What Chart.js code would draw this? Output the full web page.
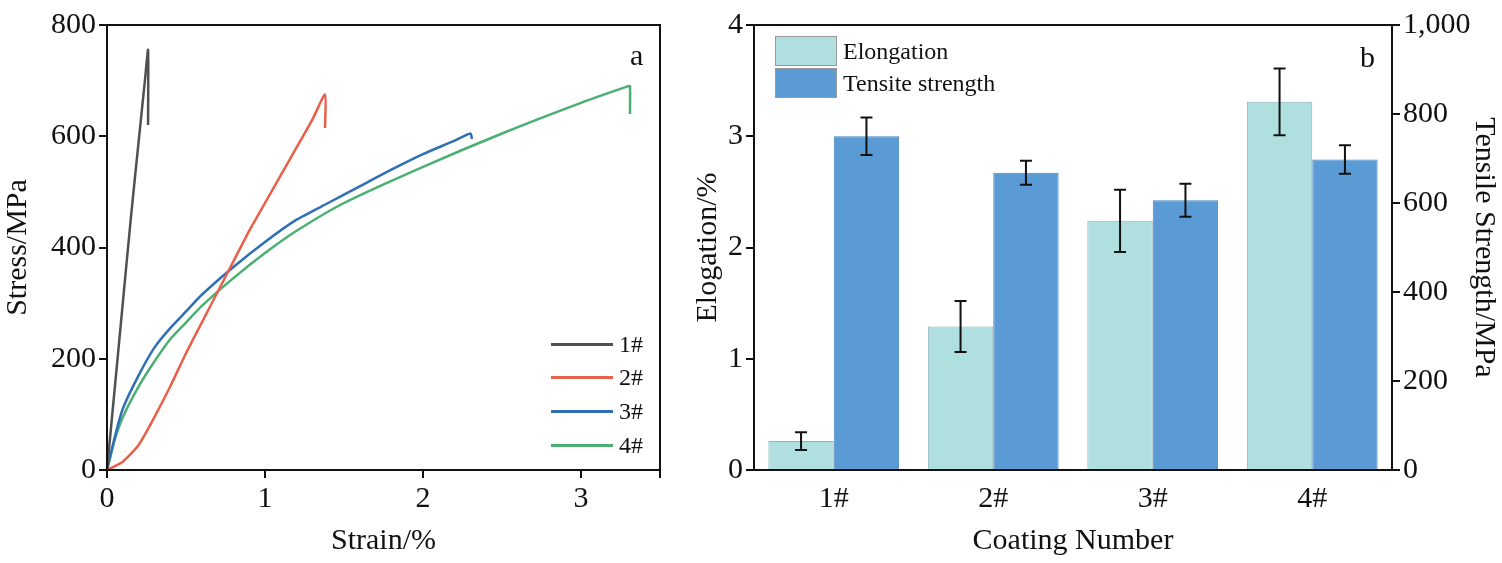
<!DOCTYPE html>
<html><head><meta charset="utf-8">
<script src="https://cdn.jsdelivr.net/npm/chart.js@4.4.1/dist/chart.umd.min.js"></script>
<style>
body{margin:0;background:#fff;width:1502px;height:563px;position:relative;overflow:hidden;font-family:"Liberation Serif",serif}
.c{position:absolute;top:0}
.lab{position:absolute;font-size:30px;color:#111}
.lg{position:absolute;font-size:24px;color:#111;display:flex;align-items:center}
.lg span{flex-shrink:0;display:inline-block}
</style></head><body>
<div class="c" style="left:0"><canvas id="a" width="690" height="563"></canvas></div>
<div class="c" style="left:690px"><canvas id="b" width="812" height="563"></canvas></div>
<div class="lab" style="left:630px;top:38px">a</div>
<div class="lab" style="left:1360px;top:40px">b</div>
<div class="lg" style="left:551px;top:331px"><span style="width:62px;height:3px;background:#505050;margin-right:6px"></span>1#</div>
<div class="lg" style="left:551px;top:364px"><span style="width:62px;height:3px;background:#e8604a;margin-right:6px"></span>2#</div>
<div class="lg" style="left:551px;top:398px"><span style="width:62px;height:3px;background:#2f6fb5;margin-right:6px"></span>3#</div>
<div class="lg" style="left:551px;top:432px"><span style="width:62px;height:3px;background:#4caf72;margin-right:6px"></span>4#</div>
<div class="lg" style="left:775px;top:36px"><span style="width:60px;height:28px;background:#b0dfe0;border:1px solid #999;margin-right:6px"></span>Elongation</div>
<div class="lg" style="left:775px;top:68px"><span style="width:60px;height:28px;background:#5b9bd5;border:1px solid #999;margin-right:6px"></span>Tensite strength</div>
<script>
// stress-strain curves (strain %, stress MPa)
const s1 = [[0,0],[0.05,150],[0.1,300],[0.15,450],[0.2,590],[0.24,700],[0.26,755],[0.26,620]];
const s2 = [[0,0],[0.1,15],[0.2,45],[0.3,95],[0.4,150],[0.5,210],[0.6,265],[0.7,320],[0.8,375],[0.9,430],[1.0,480],[1.1,530],[1.2,580],[1.3,630],[1.38,675],[1.38,615]];
const s3 = [[0,0],[0.05,60],[0.1,110],[0.2,170],[0.3,220],[0.4,255],[0.5,285],[0.6,315],[0.8,365],[1.0,410],[1.2,450],[1.4,480],[1.6,510],[1.8,540],[2.0,568],[2.2,592],[2.3,605],[2.31,595]];
const s4 = [[0,0],[0.05,55],[0.1,95],[0.2,150],[0.3,195],[0.4,235],[0.5,265],[0.6,295],[0.8,345],[1.0,390],[1.2,430],[1.5,480],[2.0,545],[2.5,605],[3.0,660],[3.3,690],[3.31,690],[3.31,640]];
const seriesNames = ['1#','2#','3#','4#'];
const seriesColors = ['#505050','#e8604a','#2f6fb5','#4caf72'];

// bar chart
const coatings = ['1#','2#','3#','4#'];
const elongation = [0.26,1.29,2.24,3.31];
const elongErr = [0.08,0.23,0.28,0.30];
const tensile = [750,668,606,698];
const tensileErr = [42,27,37,32];

const font = {family:'"Liberation Serif", serif', size:30};
const black = '#111';

const frame = {
  id:'frame',
  afterDraw(c){
    const a = c.chartArea, x = c.ctx;
    x.save(); x.strokeStyle = black; x.lineWidth = 2;
    x.strokeRect(a.left, a.top, a.right - a.left, a.bottom - a.top);
    x.restore();
  }
};

const errBars = {
  id:'errBars',
  afterDatasetsDraw(c){
    const x = c.ctx;
    x.save(); x.strokeStyle = black; x.lineWidth = 2;
    c.data.datasets.forEach((ds, i) => {
      const sc = c.scales[ds.yAxisID];
      c.getDatasetMeta(i).data.forEach((bar, j) => {
        const v = ds.data[j], e = ds.err[j];
        const t = sc.getPixelForValue(v + e), b = sc.getPixelForValue(v - e);
        x.beginPath();
        x.moveTo(bar.x, t); x.lineTo(bar.x, b);
        x.moveTo(bar.x - 6, t); x.lineTo(bar.x + 6, t);
        x.moveTo(bar.x - 6, b); x.lineTo(bar.x + 6, b);
        x.stroke();
      });
    });
    x.restore();
  }
};

const axisCommon = {
  border:{color:black, width:2},
  grid:{drawOnChartArea:false, color:black, tickLength:8, lineWidth:2},
  ticks:{font, color:black}
};

new Chart(document.getElementById('a'), {
  type:'line',
  data:{datasets:[s1,s2,s3,s4].map((s, i) => ({
    label:seriesNames[i],
    data:s.map(p => ({x:p[0], y:p[1]})),
    borderColor:seriesColors[i], borderWidth:2.5, pointRadius:0, tension:0.2
  }))},
  options:{
    animation:false, responsive:false, maintainAspectRatio:false,
    layout:{padding:{top:25, right:30}},
    plugins:{legend:{display:false}, tooltip:{enabled:false}},
    scales:{
      x:{type:'linear', min:0, max:3.5, ...axisCommon,
        ticks:{font, color:black, stepSize:1, callback:v => Number.isInteger(v) ? v : ''},
        title:{display:true, text:'Strain/%', font, color:black, padding:{top:0}},
        afterFit:s => { s.height = 93; }},
      y:{min:0, max:800, ...axisCommon,
        ticks:{font, color:black, stepSize:200},
        title:{display:true, text:'Stress/MPa', font, color:black, padding:0},
        afterFit:s => { s.width = 107; }}
    }
  },
  plugins:[frame]
});

new Chart(document.getElementById('b'), {
  type:'bar',
  data:{labels:coatings, datasets:[
    {label:'Elongation', data:elongation, err:elongErr, yAxisID:'y',
     backgroundColor:'#b0dfe0', borderColor:'#8fb3b5', borderWidth:1},
    {label:'Tensite strength', data:tensile, err:tensileErr, yAxisID:'y2',
     backgroundColor:'#5b9bd5', borderColor:'#4a86bd', borderWidth:1}
  ]},
  options:{
    animation:false, responsive:false, maintainAspectRatio:false,
    layout:{padding:{top:25}},
    plugins:{legend:{display:false}, tooltip:{enabled:false}},
    datasets:{bar:{categoryPercentage:0.82, barPercentage:1}},
    scales:{
      x:{...axisCommon, grid:{display:false},
        title:{display:true, text:'Coating Number', font, color:black, padding:{top:0}},
        afterFit:s => { s.height = 93; }},
      y:{position:'left', min:0, max:4, ...axisCommon,
        ticks:{font, color:black, stepSize:1},
        title:{display:true, text:'Elogation/%', font, color:black, padding:0},
        afterFit:s => { s.width = 64; }},
      y2:{position:'right', min:0, max:1000, ...axisCommon,
        ticks:{font, color:black, stepSize:200},
        title:{display:true, text:'Tensile Strength/MPa', font, color:black, padding:0},
        afterFit:s => { s.width = 110; }}
    }
  },
  plugins:[frame, errBars]
});
</script>
</body></html>
